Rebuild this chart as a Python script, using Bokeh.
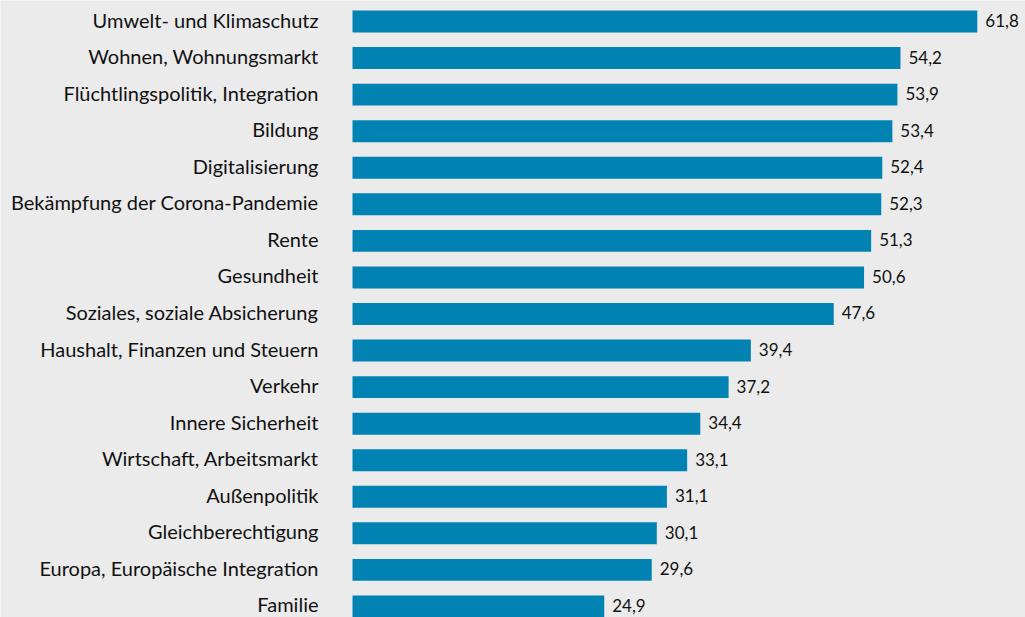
from bokeh.plotting import figure
from bokeh.models import Range1d, ColumnDataSource
from bokeh.core.properties import value
from bokeh.embed import file_html
from bokeh.resources import INLINE

categories = [
    "Umwelt- und Klimaschutz",
    "Wohnen, Wohnungsmarkt",
    "Flüchtlingspolitik, Integration",
    "Bildung",
    "Digitalisierung",
    "Bekämpfung der Corona-Pandemie",
    "Rente",
    "Gesundheit",
    "Soziales, soziale Absicherung",
    "Haushalt, Finanzen und Steuern",
    "Verkehr",
    "Innere Sicherheit",
    "Wirtschaft, Arbeitsmarkt",
    "Außenpolitik",
    "Gleichberechtigung",
    "Europa, Europäische Integration",
    "Familie",
]
values = [61.8, 54.2, 53.9, 53.4, 52.4, 52.3, 51.3, 50.6, 47.6, 39.4, 37.2,
          34.4, 33.1, 31.1, 30.1, 29.6, 24.9]

n = len(categories)
ypos = [n - 1 - i for i in range(n)]
labels = [f"{v:.1f}".replace(".", ",") for v in values]

src = ColumnDataSource(dict(cat=categories, val=values, y=ypos, lab=labels))

W, H = 1025, 617
pxu = 10.11
x0 = 352
step = 36.56
top = 21
p = figure(width=W, height=H, output_backend="svg", toolbar_location=None,
           x_range=Range1d(-x0 / pxu, (W - x0) / pxu),
           y_range=Range1d(n - 1 - (H - top) / step, n - 1 + top / step),
           min_border=0, border_fill_color="#ebebeb",
           background_fill_color="#ebebeb", outline_line_color=None)
p.axis.visible = False
p.grid.visible = False

p.hbar(y="y", right="val", left=0, height=0.6, source=src,
       fill_color="#0083b3", line_color=None)

p.text(x=0, y="y", text="cat", source=src, x_offset=-34, y_offset=-2,
       text_align="right", text_baseline="middle",
       text_font=value("Lato"), text_font_size="20px", text_color="#111111")

p.text(x="val", y="y", text="lab", source=src, x_offset=8, y_offset=-1,
       text_align="left", text_baseline="middle",
       text_font=value("Lato"), text_font_size="17px", text_color="#111111")

open("out.html", "w").write(file_html(p, INLINE))
